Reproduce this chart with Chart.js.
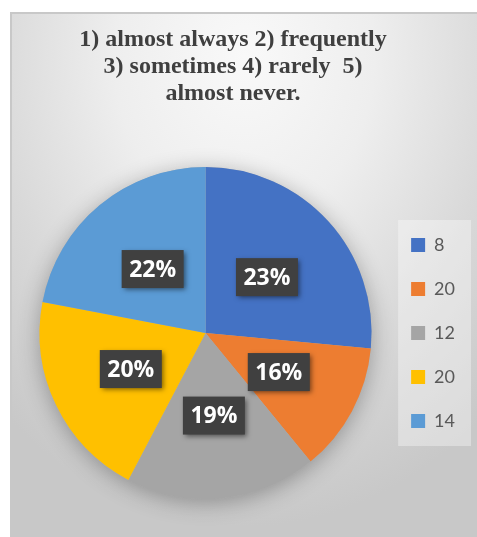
<!DOCTYPE html>
<html>
<head>
<meta charset="utf-8">
<script src="https://cdn.jsdelivr.net/npm/chart.js@4/dist/chart.umd.min.js"></script>
<style>
  html, body { margin: 0; padding: 0; background: #ffffff; }
  .frame {
    position: absolute; left: 10px; top: 12px; width: 465px; height: 523px;
    border-top: 2px solid #c8c8c8; border-left: 2px solid #c8c8c8;
    background: radial-gradient(ellipse 80% 90% at 50% 8%, #f9f9f9 0%, #eeeeee 35%, #d9d9d9 68%, #c8c8c8 100%);
  }
  .wrap { position: absolute; left: 0; top: 0; width: 477px; height: 537px; }
</style>
</head>
<body>
<div class="frame"></div>
<div class="wrap"><canvas id="chart" width="477" height="537"></canvas></div>
<script>
// legend categories (as printed in the legend)
const categories = ['8', '20', '12', '20', '14'];
// slice sizes
const shares = [26.5, 12.6, 18.6, 20.3, 22.0];
// percentages printed on the slices
const pctLabels = ['23%', '16%', '19%', '20%', '22%'];
const sliceColors = ['#4472C4', '#ED7D31', '#A5A5A5', '#FFC000', '#5B9BD5'];
const titleLines = ['1) almost always 2) frequently', '3) sometimes 4) rarely  5)', 'almost never.'];

// soft shadow under the pie, light box behind legend, title centred over the frame
const decor = {
  id: 'decor',
  afterLayout(chart) {
    // the title sits centred over the whole frame, not over chart + legend
    if (chart.titleBlock) {
      chart.titleBlock.left = 0;
      chart.titleBlock.right = 466;
    }
  },
  beforeDraw(chart) {
    const lg = chart.legend;
    if (!lg || !lg.legendHitBoxes || !lg.legendHitBoxes.length) return;
    const hb = lg.legendHitBoxes;
    let right = 0;
    hb.forEach(h => { right = Math.max(right, h.left + h.width); });
    const top = hb[0].top - 16;
    const bottom = hb[hb.length - 1].top + hb[hb.length - 1].height + 16;
    const c = chart.ctx;
    c.save();
    c.fillStyle = 'rgba(255,255,255,0.35)';
    c.fillRect(hb[0].left - 13, top, right - hb[0].left + 29, bottom - top);
    c.restore();
  },
  beforeDatasetsDraw(chart) {
    const arc = chart.getDatasetMeta(0).data[0];
    if (!arc) return;
    const c = chart.ctx;
    c.save();
    c.shadowColor = 'rgba(0,0,0,0.3)';
    c.shadowBlur = 22;
    c.shadowOffsetY = 4;
    c.fillStyle = '#b0b0b0';
    c.beginPath();
    c.arc(arc.x, arc.y, arc.outerRadius, 0, Math.PI * 2);
    c.fill();
    c.restore();
  }
};

// dark boxed percentage labels in the middle of each slice
const sliceLabels = {
  id: 'sliceLabels',
  afterDatasetsDraw(chart) {
    const c = chart.ctx;
    chart.getDatasetMeta(0).data.forEach((arc, i) => {
      const mid = (arc.startAngle + arc.endAngle) / 2;
      const r = arc.outerRadius * 0.5;
      const x = arc.x + Math.cos(mid) * r;
      const y = arc.y + Math.sin(mid) * r;
      const w = 62, h = 38;
      c.save();
      c.shadowColor = 'rgba(0,0,0,0.5)';
      c.shadowBlur = 5;
      c.shadowOffsetX = 2;
      c.shadowOffsetY = 2;
      c.fillStyle = '#404040';
      c.fillRect(x - w / 2, y - h / 2, w, h);
      c.restore();
      c.save();
      c.fillStyle = '#ffffff';
      c.font = 'bold 23px "Open Sans"';
      c.textAlign = 'center';
      c.textBaseline = 'middle';
      c.fillText(pctLabels[i], x, y + 1);
      c.restore();
    });
  }
};

const ctx = document.getElementById('chart').getContext('2d');
new Chart(ctx, {
  type: 'pie',
  data: {
    labels: categories,
    datasets: [{
      data: shares,
      backgroundColor: sliceColors,
      borderWidth: 0,
      hoverOffset: 0
    }]
  },
  options: {
    responsive: false,
    animation: false,
    layout: { padding: { left: 26, right: 12, top: 0, bottom: 38 } },
    plugins: {
      title: {
        display: true,
        text: titleLines,
        color: '#3f3f3f',
        font: { family: '"Liberation Serif", "DejaVu Serif", serif', size: 24, weight: 'bold', lineHeight: 1.125 },
        padding: { top: 26, bottom: 60 }
      },
      legend: {
        position: 'right',
        fullSize: false,
        labels: {
          boxWidth: 14,
          boxHeight: 14,
          padding: 26,
          color: '#595959',
          font: { family: 'Lato', size: 18 }
        }
      },
      tooltip: { enabled: false }
    }
  },
  plugins: [decor, sliceLabels]
});
</script>
</body>
</html>
